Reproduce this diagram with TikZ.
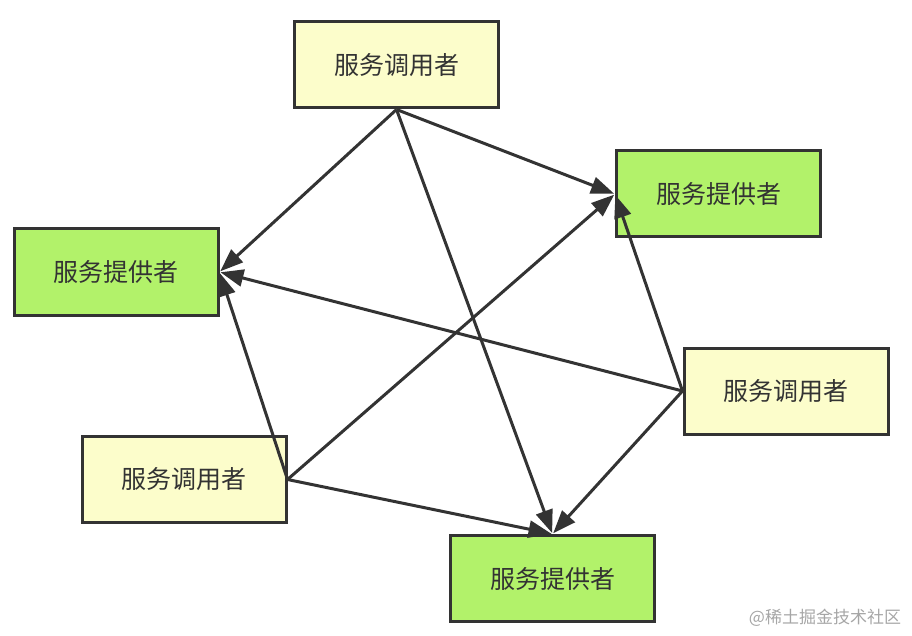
\documentclass[tikz,border=0pt]{standalone}
\usepackage{xcolor}
\usepackage{fontspec}
\usepackage{tikz}
\usetikzlibrary{arrows.meta}
\newfontfamily\cjk{Noto Sans CJK SC}
\definecolor{callerfill}{HTML}{FCFDCB}
\definecolor{providerfill}{HTML}{B2F26A}
\definecolor{edgegray}{HTML}{333333}

\begin{document}
\begin{tikzpicture}[x=1pt,y=-1pt,->,>={Triangle[length=23pt,width=17pt]},shorten >=1pt,line width=3pt,color=edgegray,
    caller node/.style={rectangle,draw=edgegray,fill=callerfill,minimum width=204pt,minimum height=86pt,font=\cjk\fontsize{25}{28}\selectfont},
    provider node/.style={caller node,fill=providerfill}]
    \useasboundingbox (0,0) rectangle (912,636);
    \node[caller node] (c1) at (396.5,65) {服务调用者};
    \node[caller node] (c2) at (786,391) {服务调用者};
    \node[caller node] (c3) at (184,479.5) {服务调用者};
    \node[provider node] (p1) at (718.5,194) {服务提供者};
    \node[provider node] (p2) at (116,272) {服务提供者};
    \node[provider node] (p3) at (552.5,578.5) {服务提供者};

    \path
    (c1.south) edge (p2.east)
    (c1.south) edge (p1.west)
    (c1.south) edge (p3.north)
    (c2.west) edge (p2.east)
    (c2.west) edge (p1.west)
    (c2.west) edge (p3.north)
    (c3.east) edge (p2.east)
    (c3.east) edge (p1.west)
    (c3.east) edge (p3.north);

    \node[font=\cjk\fontsize{17}{20}\selectfont,text=black!35] (mark) at (825,618) {@稀土掘金技术社区};
  \end{tikzpicture}
\end{document}
